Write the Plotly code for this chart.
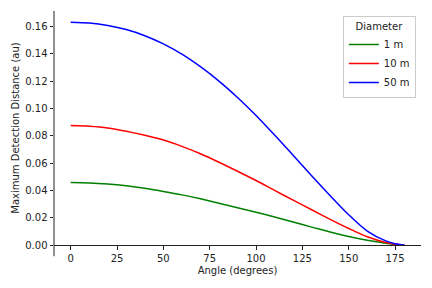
import plotly.graph_objects as go

angles = [0, 10, 20, 30, 40, 50, 60, 70, 80, 90, 100, 110, 120, 130, 140, 150, 160, 170, 175, 180]
d1m = [0.0457, 0.0454, 0.0446, 0.0433, 0.0415, 0.0392, 0.0367, 0.0338, 0.0306, 0.0273,
       0.0240, 0.0205, 0.0168, 0.0131, 0.0095, 0.0062, 0.0034, 0.0012, 0.0004, 0.0]
d10m = [0.0874, 0.0869, 0.0857, 0.0833, 0.0803, 0.0768, 0.0722, 0.0668, 0.0606, 0.0540,
        0.0472, 0.0400, 0.0329, 0.0258, 0.0188, 0.0121, 0.0060, 0.0018, 0.0006, 0.0]
d50m = [0.1631, 0.1625, 0.1607, 0.1577, 0.1532, 0.1472, 0.1397, 0.1305, 0.1200, 0.1080,
        0.0948, 0.0805, 0.0657, 0.0507, 0.0361, 0.0221, 0.0102, 0.0030, 0.0009, 0.0]
series_names = ["1 m", "10 m", "50 m"]
series_colors = ["green", "red", "blue"]
xticks = [0, 25, 50, 75, 100, 125, 150, 175]
yticks = [0.00, 0.02, 0.04, 0.06, 0.08, 0.10, 0.12, 0.14, 0.16]

fig = go.Figure()
for name, vals, col in zip(series_names, [d1m, d10m, d50m], series_colors):
    fig.add_trace(go.Scatter(x=angles, y=vals, mode="lines", name=name,
                             line=dict(color=col, width=1.5, shape="spline", smoothing=0.8),
                             cliponaxis=False))

font = dict(family="DejaVu Sans", size=10, color="#222222")
fig.update_layout(
    width=432, height=288,
    margin=dict(l=54, r=11, t=11, b=43),
    paper_bgcolor="white", plot_bgcolor="white",
    font=font,
    showlegend=True,
    legend=dict(
        title=dict(text="Diameter", side="top center", font=dict(size=10)),
        x=0.986, y=0.979, xanchor="right", yanchor="top",
        bordercolor="#cccccc", borderwidth=1, bgcolor="white",
        font=dict(size=10), itemwidth=30, tracegroupgap=0,
    ),
    xaxis=dict(
        range=[-9, 189], tickvals=xticks, ticktext=[str(t) for t in xticks],
        showline=True, linecolor="#222222", linewidth=1,
        ticks="outside", ticklen=3.5, tickcolor="#222222",
        showgrid=False, zeroline=False, automargin=False,
        title=dict(text="Angle (degrees)", standoff=4, font=dict(size=10)),
    ),
    yaxis=dict(
        range=[0, 0.1713], tickvals=yticks, ticktext=["%.2f" % t for t in yticks],
        showline=False,
        ticks="outside", ticklen=3.5, tickcolor="#222222",
        showgrid=False, zeroline=False, automargin=False,
        title=dict(text="Maximum Detection Distance (au)", standoff=3, font=dict(size=10)),
    ),
    shapes=[dict(type="line", xref="paper", yref="paper", x0=0, x1=0, y0=-0.048, y1=1,
                 line=dict(color="#222222", width=1))],
)

fig.write_html("out.html", config={"displayModeBar": False},
               post_script="document.body.style.margin='0px';")
